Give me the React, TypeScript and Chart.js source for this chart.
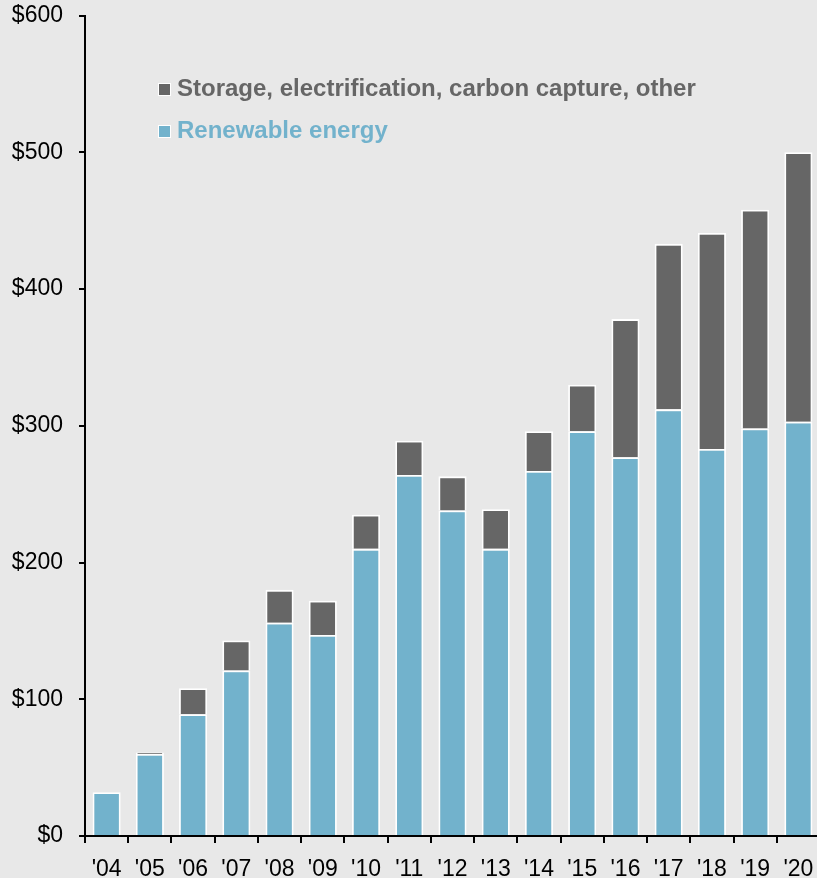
import React, { useEffect, useRef } from "react";
import { Chart, registerables } from "chart.js";

Chart.register(...registerables);

const categories = ["'04", "'05", "'06", "'07", "'08", "'09", "'10", "'11", "'12", "'13", "'14", "'15", "'16", "'17", "'18", "'19", "'20"];
const renewable = [32, 60, 89, 121, 156, 147, 210, 264, 238, 210, 267, 296, 277, 312, 283, 298, 303];
const storageOther = [0, 1, 19, 22, 24, 25, 25, 25, 25, 29, 29, 34, 101, 121, 158, 160, 197];
const yTicks = [0, 100, 200, 300, 400, 500, 600];
const seriesNames = ["Storage, electrification, carbon capture, other", "Renewable energy"];

const BLUE = "#72B2CC";
const GRAY = "#666666";
const BG = "#E8E8E8";
const FONT = "'Liberation Sans', Arial, Helvetica, sans-serif";

export default function App() {
  const ref = useRef<HTMLCanvasElement | null>(null);

  useEffect(() => {
    const canvas = ref.current;
    if (!canvas) return;
    const chart = new Chart(canvas, {
      type: "bar",
      data: {
        labels: categories,
        datasets: [
          {
            label: seriesNames[1],
            data: renewable,
            backgroundColor: BLUE,
            borderColor: "#FFFFFF",
            borderWidth: 1.8,
            barPercentage: 0.65,
            categoryPercentage: 1,
          },
          {
            label: seriesNames[0],
            data: storageOther,
            backgroundColor: GRAY,
            borderColor: "#FFFFFF",
            borderWidth: 1.8,
            barPercentage: 0.65,
            categoryPercentage: 1,
          },
        ],
      },
      options: {
        responsive: false,
        animation: false,
        devicePixelRatio: 1,
        layout: { padding: { top: 0, left: 0, right: 2, bottom: 0 } },
        plugins: {
          legend: { display: false },
          tooltip: { enabled: false },
        },
        scales: {
          x: {
            stacked: true,
            z: 1,
            grid: {
              drawOnChartArea: false,
              drawTicks: true,
              tickLength: 7,
              color: "#000",
              lineWidth: 2,
              offset: true,
            },
            border: { display: true, color: "#000", width: 2 },
            ticks: {
              color: "#000",
              font: { family: FONT, size: 23 },
              padding: 13,
              maxRotation: 0,
              autoSkip: false,
            },
            afterFit: (s: any) => {
              s.height = 42;
              s.paddingLeft = 0;
              s.paddingRight = 0;
            },
          },
          y: {
            stacked: true,
            min: 0,
            max: 600,
            z: 1,
            afterBuildTicks: (s: any) => {
              s.ticks = yTicks.map((v) => ({ value: v }));
            },
            grid: {
              drawOnChartArea: false,
              drawTicks: true,
              tickLength: 6,
              color: "#000",
              lineWidth: 2,
            },
            border: { display: true, color: "#000", width: 2 },
            ticks: {
              color: "#000",
              font: { family: FONT, size: 23 },
              padding: 16,
              callback: (v: any) => "$" + v,
            },
            afterFit: (s: any) => {
              s.width = 85;
              s.paddingTop = 15.5;
              s.paddingBottom = 0;
            },
          },
        },
      },
    });
    return () => chart.destroy();
  }, []);

  const legendRow = (name: string, color: string, top: number, boxTop: number) => (
    <React.Fragment key={name}>
      <div
        style={{
          position: "absolute",
          left: 158,
          top: boxTop,
          width: 13,
          height: 13,
          boxSizing: "border-box",
          border: "1.5px solid #FFFFFF",
          background: color,
        }}
      />
      <div
        style={{
          position: "absolute",
          left: 177,
          top,
          font: `bold 24px ${FONT}`,
          lineHeight: "24px",
          color,
          whiteSpace: "nowrap",
        }}
      >
        {name}
      </div>
    </React.Fragment>
  );

  return (
    <div
      style={{
        position: "fixed",
        left: 0,
        top: 0,
        width: 817,
        height: 878,
        overflow: "hidden",
        background: BG,
      }}
    >
      <canvas ref={ref} width={822} height={878} style={{ display: "block", width: 822, height: 878 }} />
      {legendRow(seriesNames[0], GRAY, 76, 83)}
      {legendRow(seriesNames[1], BLUE, 118, 125)}
    </div>
  );
}
